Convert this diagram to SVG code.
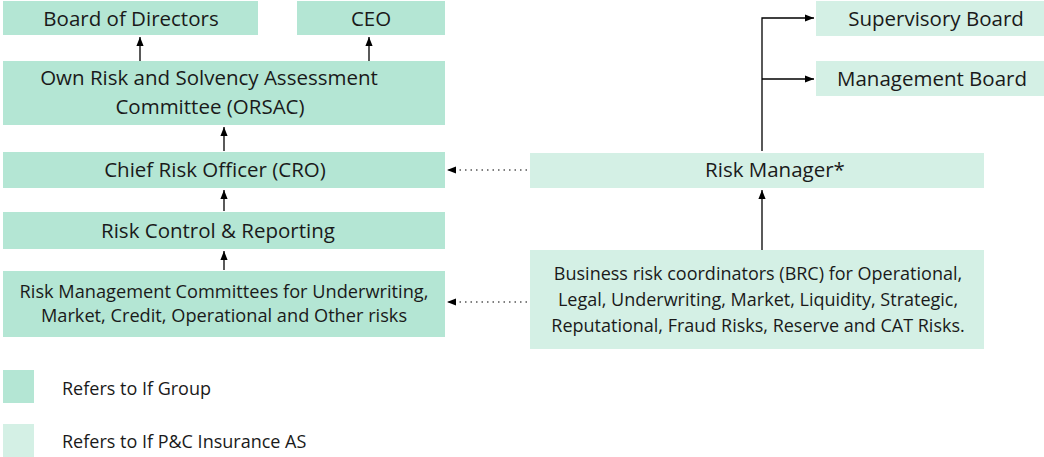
<svg xmlns="http://www.w3.org/2000/svg" width="1044" height="457" viewBox="0 0 1044 457">
<style>
.g{fill:#b4e6d4}
.p{fill:#d4f0e5}
text{font-family:"Open Sans","Noto Sans",sans-serif;fill:#1a1a1a;text-anchor:middle}
.t20{font-size:20.5px}
.t17{font-size:18.2px}
.t16{font-size:18px}
.leg{font-size:18px;text-anchor:start}
.c{stroke:#000;stroke-width:1.3;fill:none}
.d{stroke:#000;stroke-width:1.2;fill:none;stroke-dasharray:1.5 4}
</style>
<defs>
<marker id="a" viewBox="0 0 10 10" refX="10" refY="5" markerWidth="9" markerHeight="9" markerUnits="userSpaceOnUse" orient="auto">
<path d="M0,1 L10,5 L0,9 z" fill="#000"/>
</marker>
</defs>
<g id="bod"><rect class="g" x="3" y="1" width="255" height="34"/><text class="t20" x="131" y="26">Board of Directors</text></g>
<g id="ceo"><rect class="g" x="297" y="1" width="148" height="34"/><text class="t20" x="371" y="26">CEO</text></g>
<g id="orsac"><rect class="g" x="3" y="61" width="442" height="64"/><text class="t20" x="209" y="85">Own Risk and Solvency Assessment</text><text class="t20" x="210" y="114">Committee (ORSAC)</text></g>
<g id="cro"><rect class="g" x="3" y="152" width="442" height="36"/><text class="t20" x="215" y="177">Chief Risk Officer (CRO)</text></g>
<g id="rcr"><rect class="g" x="3" y="212" width="442" height="37"/><text class="t20" x="218" y="238">Risk Control &amp; Reporting</text></g>
<g id="rmc"><rect class="g" x="3" y="271" width="442" height="66"/><text class="t17" x="224" y="298">Risk Management Committees for Underwriting,</text><text class="t17" x="224" y="322">Market, Credit, Operational and Other risks</text></g>
<g id="sb"><rect class="p" x="816" y="1" width="228" height="35"/><text class="t20" x="936" y="26">Supervisory Board</text></g>
<g id="mb"><rect class="p" x="816" y="61" width="228" height="35"/><text class="t20" x="932" y="86">Management Board</text></g>
<g id="rm"><rect class="p" x="530" y="153" width="454" height="35"/><text class="t20" x="775" y="177">Risk Manager*</text></g>
<g id="brc"><rect class="p" x="530" y="250" width="454" height="99"/><text class="t16" x="758" y="280">Business risk coordinators (BRC) for Operational,</text><text class="t16" x="758" y="306">Legal, Underwriting, Market, Liquidity, Strategic,</text><text class="t16" x="758" y="332">Reputational, Fraud Risks, Reserve and CAT Risks.</text></g>
<g id="legend-group"><rect class="g" x="3" y="370" width="31" height="33"/><text class="leg" x="62" y="395">Refers to If Group</text></g>
<g id="legend-pc"><rect class="p" x="3" y="424" width="31" height="33"/><text class="leg" x="62" y="448">Refers to If P&amp;C Insurance AS</text></g>
<g id="connectors">
<line class="c" x1="140" y1="61" x2="140" y2="37" marker-end="url(#a)"/>
<line class="c" x1="369" y1="61" x2="369" y2="37" marker-end="url(#a)"/>
<line class="c" x1="224" y1="151" x2="224" y2="127" marker-end="url(#a)"/>
<line class="c" x1="224" y1="211" x2="224" y2="190" marker-end="url(#a)"/>
<line class="c" x1="224" y1="270" x2="224" y2="251" marker-end="url(#a)"/>
<line class="c" x1="762" y1="250" x2="762" y2="190" marker-end="url(#a)"/>
<polyline class="c" points="762,151 762,18 814,18" marker-end="url(#a)"/>
<line class="c" x1="762" y1="79" x2="814" y2="79" marker-end="url(#a)"/>
<line class="d" x1="527" y1="170" x2="447" y2="170" marker-end="url(#a)"/>
<line class="d" x1="527" y1="302" x2="447" y2="302" marker-end="url(#a)"/>
</g>
</svg>
